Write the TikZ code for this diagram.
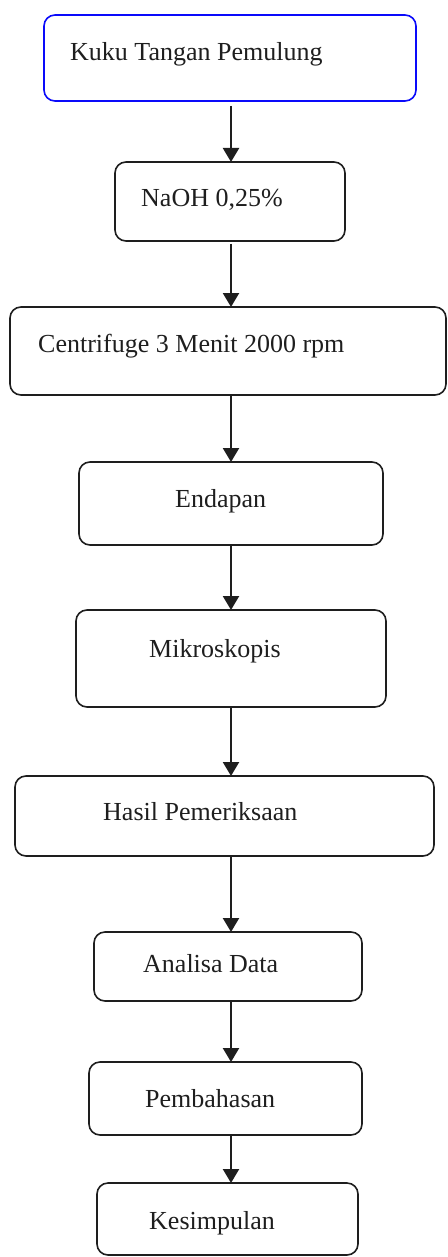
\documentclass[tikz,border=0pt]{standalone}
\usepackage{fontspec}
\setmainfont{Liberation Serif}
\usetikzlibrary{arrows.meta}
\definecolor{boxblue}{RGB}{10,10,250}
\definecolor{ink}{RGB}{30,30,30}
\tikzset{
  box/.style={draw=ink, line width=1.6pt, rounded corners=11pt, inner sep=0pt, outer sep=0pt},
  lbl/.style={anchor=base west, inner sep=0pt, text=ink, font=\fontsize{26}{30}\selectfont},
  arr/.style={draw=ink, line width=2.2pt, -{Triangle[width=16pt,length=14pt]}},
}
\begin{document}
\begin{tikzpicture}[x=1pt,y=-1pt]
\useasboundingbox (0,0) rectangle (447,1257);
\coordinate (ax) at (231,0);
% boxes
\node[box, draw=boxblue, minimum width=372pt, minimum height=86pt] (b1) at (230,58) {};
\node[box, minimum width=230pt, minimum height=79pt] (b2) at (230,201.5) {};
\node[box, minimum width=436pt, minimum height=88pt] (b3) at (228,351) {};
\node[box, minimum width=304pt, minimum height=83pt] (b4) at (231,503.5) {};
\node[box, minimum width=310pt, minimum height=97pt] (b5) at (231,658.5) {};
\node[box, minimum width=419pt, minimum height=80pt] (b6) at (224.5,816) {};
\node[box, minimum width=268pt, minimum height=69pt] (b7) at (228,966.5) {};
\node[box, minimum width=273pt, minimum height=73pt] (b8) at (225.5,1098.5) {};
\node[box, minimum width=261pt, minimum height=72pt] (b9) at (227.5,1219) {};
% labels
\node[lbl] (t1) at (70,61) {Kuku Tangan Pemulung};
\node[lbl] (t2) at (141,207) {NaOH 0,25\%};
\node[lbl] (t3) at (38,352.5) {Centrifuge 3 Menit 2000 rpm};
\node[lbl] (t4) at (175,507) {Endapan};
\node[lbl] (t5) at (149,657) {Mikroskopis};
\node[lbl] (t6) at (103,820) {Hasil Pemeriksaan};
\node[lbl] (t7) at (143,972) {Analisa Data};
\node[lbl] (t8) at (145,1107) {Pembahasan};
\node[lbl] (t9) at (149,1229) {Kesimpulan};
% arrows
\draw[arr, shorten <=5pt] (b1.south -| ax) -- (b2.north -| ax);
\draw[arr, shorten <=3pt] (b2.south -| ax) -- (b3.north -| ax);
\draw[arr] (b3.south -| ax) -- (b4.north -| ax);
\draw[arr] (b4.south -| ax) -- (b5.north -| ax);
\draw[arr] (b5.south -| ax) -- (b6.north -| ax);
\draw[arr] (b6.south -| ax) -- (b7.north -| ax);
\draw[arr] (b7.south -| ax) -- (b8.north -| ax);
\draw[arr] (b8.south -| ax) -- (b9.north -| ax);
\end{tikzpicture}
\end{document}
